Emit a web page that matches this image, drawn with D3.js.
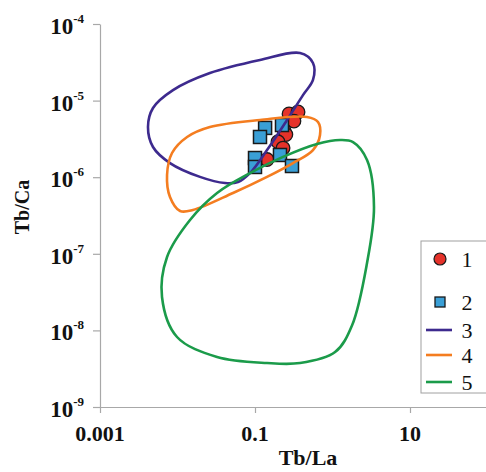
<!DOCTYPE html>
<html><head><meta charset="utf-8">
<script src="https://cdn.jsdelivr.net/npm/d3@7"></script>
<style>html,body{margin:0;padding:0;background:#fff;overflow:hidden}</style>
</head><body>
<script>
// ---- data ----
const xTicks = [0.001, 0.1, 10];
const xTickLabels = ["0.001", "0.1", "10"];
const yTicks = [1e-4, 1e-5, 1e-6, 1e-7, 1e-8, 1e-9];
const yTickExps = ["-4", "-5", "-6", "-7", "-8", "-9"];

// series 1 (circles)
const s1x = [0.275, 0.359, 0.318, 0.237, 0.25, 0.198, 0.230, 0.143];
const s1y = [6.7e-6, 7.1e-6, 5.4e-6, 4.1e-6, 3.6e-6, 2.9e-6, 2.4e-6, 1.7e-6];
// series 2 (squares)
const s2x = [0.135, 0.116, 0.223, 0.1, 0.1, 0.21, 0.30];
const s2y = [4.4e-6, 3.35e-6, 4.8e-6, 1.78e-6, 1.36e-6, 1.95e-6, 1.4e-6];
// field 3 (purple)
const c3x = [0.381, 0.56, 0.56, 0.416, 0.259, 0.143, 0.0861, 0.0604, 0.041, 0.0195, 0.008, 0.00483, 0.00416, 0.00483, 0.00875, 0.0262, 0.116];
const c3y = [4.18e-5, 3.10e-5, 1.86e-5, 1.18e-5, 5.58e-6, 2.26e-6, 1.13e-6, 8.65e-7, 8.39e-7, 1.01e-6, 1.53e-6, 2.48e-6, 4.52e-6, 8.0e-6, 1.37e-5, 2.29e-5, 3.39e-5];
// field 4 (orange)
const c4x = [0.469, 0.65, 0.69, 0.56, 0.309, 0.143, 0.052, 0.0158, 0.0108, 0.008, 0.00733, 0.0085, 0.0133, 0.0262, 0.116];
const c4y = [6.11e-6, 5.26e-6, 3.56e-6, 2.26e-6, 1.53e-6, 1.01e-6, 6.22e-7, 3.73e-7, 3.62e-7, 5.52e-7, 1.07e-6, 2.07e-6, 3.35e-6, 4.52e-6, 5.58e-6];
// field 5 (green)
const c5x = [1.25, 1.84, 2.79, 3.43, 2.79, 1.79, 1.08, 0.381, 0.143, 0.0324, 0.00986, 0.00631, 0.00733, 0.0145, 0.0324, 0.0861, 0.23, 0.631];
const c5y = [3.06e-6, 2.88e-6, 1.68e-6, 4.08e-7, 7.59e-8, 1.17e-8, 5.22e-9, 3.75e-9, 3.75e-9, 4.5e-9, 8.2e-9, 2.73e-8, 9.08e-8, 2.76e-7, 6.22e-7, 1.13e-6, 1.84e-6, 2.71e-6];

const legendLabels = ["1", "2", "3", "4", "5"];
const xTitle = "Tb/La";
const yTitle = "Tb/Ca";

// ---- drawing ----
const W = 486, H = 472;
const colors = {c1: "#e5322a", c2: "#3a9fd6", c3: "#3d2a8e", c4: "#f47d20", c5: "#1b9b4a"};
const serif = "'Liberation Serif','Times New Roman',serif";

const svg = d3.select("body").append("svg").attr("width", W).attr("height", H)
  .style("font-family", serif);
svg.append("rect").attr("width", W).attr("height", H).attr("fill", "#fff");

const x = d3.scaleLog().domain([1e-3, 1e3]).range([100, 565]);
const y = d3.scaleLog().domain([1e-9, 1e-4]).range([407, 24]);

// axes
const axisColor = "#a8a8a8";
const gx = svg.append("g").attr("transform", `translate(0,${y(1e-9)})`)
  .call(d3.axisBottom(x).tickValues(xTicks).tickSize(6).tickSizeOuter(0).tickFormat(""));
const gy = svg.append("g").attr("transform", `translate(${x(1e-3)},0)`)
  .call(d3.axisLeft(y).tickValues(yTicks).tickSize(7).tickSizeOuter(0).tickFormat(""));
[gx, gy].forEach(g => {
  g.select(".domain").attr("stroke", axisColor).attr("stroke-width", 1.2);
  g.selectAll(".tick line").attr("stroke", axisColor).attr("stroke-width", 1.2);
});

// x tick labels
svg.append("g").selectAll("text").data(xTicks).join("text")
  .attr("x", d => x(d)).attr("y", 441)
  .attr("text-anchor", "middle").attr("font-size", 22).attr("font-weight", "bold")
  .attr("fill", "#111")
  .text((d, i) => xTickLabels[i]);

// y tick labels with superscripts
const yl = svg.append("g").selectAll("text").data(yTicks).join("text")
  .attr("x", 84).attr("y", d => y(d) + 10)
  .attr("text-anchor", "end").attr("font-weight", "bold").attr("fill", "#111");
yl.append("tspan").attr("font-size", 23).text("10");
yl.append("tspan").attr("font-size", 13).attr("dy", -11).text((d, i) => yTickExps[i]);

// axis titles
svg.append("text").attr("x", 308).attr("y", 465).attr("text-anchor", "middle")
  .attr("font-size", 22).attr("font-weight", "bold").attr("fill", "#111").text(xTitle);
svg.append("text").attr("transform", "translate(29,207) rotate(-90)")
  .attr("text-anchor", "middle").attr("font-size", 20).attr("font-weight", "bold")
  .attr("fill", "#111").text(yTitle);

// points
const s1 = s1x.map((v, i) => [v, s1y[i]]);
const s2 = s2x.map((v, i) => [v, s2y[i]]);
svg.append("g").selectAll("circle").data(s1).join("circle")
  .attr("cx", d => x(d[0])).attr("cy", d => y(d[1])).attr("r", 6.8)
  .attr("fill", colors.c1).attr("stroke", "#1a1a1a").attr("stroke-width", 1.3);
const sq = 13;
svg.append("g").selectAll("rect").data(s2).join("rect")
  .attr("x", d => x(d[0]) - sq / 2).attr("y", d => y(d[1]) - sq / 2)
  .attr("width", sq).attr("height", sq)
  .attr("fill", colors.c2).attr("stroke", "#1a1a1a").attr("stroke-width", 1.5);

// contours
const line = d3.line().x(d => x(d[0])).y(d => y(d[1])).curve(d3.curveCatmullRomClosed.alpha(0.5));
[[c3x, c3y, colors.c3], [c4x, c4y, colors.c4], [c5x, c5y, colors.c5]].forEach(([cx, cy, col]) => {
  svg.append("path").datum(cx.map((v, i) => [v, cy[i]]))
    .attr("d", line).attr("fill", "none").attr("stroke", col).attr("stroke-width", 2.6);
});

// legend
const lg = svg.append("g");
lg.append("rect").attr("x", 421).attr("y", 241).attr("width", 80).attr("height", 152)
  .attr("fill", "#fff").attr("stroke", "#a0a0a0").attr("stroke-width", 1);
const ly = [259, 302, 330, 355, 382];
lg.append("circle").attr("cx", 440).attr("cy", ly[0]).attr("r", 6)
  .attr("fill", colors.c1).attr("stroke", "#1a1a1a").attr("stroke-width", 1.2);
lg.append("rect").attr("x", 435).attr("y", ly[1] - 5).attr("width", 10).attr("height", 10)
  .attr("fill", colors.c2).attr("stroke", "#1a1a1a").attr("stroke-width", 1.3);
[colors.c3, colors.c4, colors.c5].forEach((c, i) => {
  lg.append("line").attr("x1", 426).attr("x2", 452).attr("y1", ly[i + 2]).attr("y2", ly[i + 2])
    .attr("stroke", c).attr("stroke-width", 2.6);
});
lg.selectAll("text.lab").data(legendLabels).join("text").attr("class", "lab")
  .attr("x", 467).attr("y", (d, i) => ly[i] + 7.5).attr("text-anchor", "middle")
  .attr("font-size", 22).attr("fill", "#111").text(d => d);
</script>
</body></html>
